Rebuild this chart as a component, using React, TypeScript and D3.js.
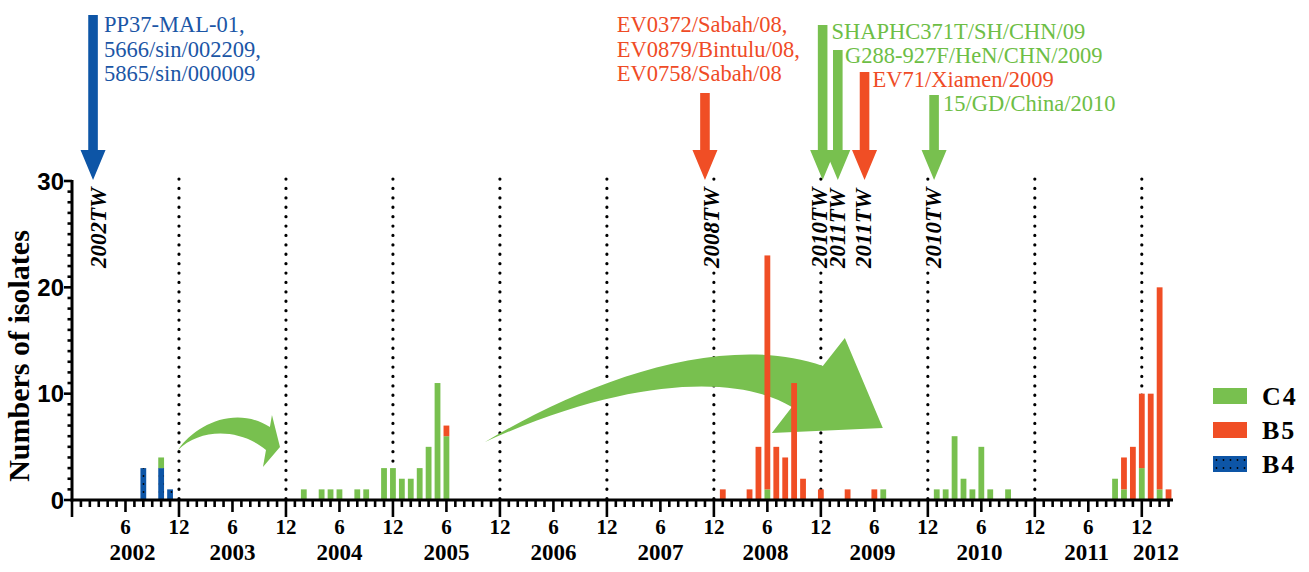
import React from "react";
import * as d3 from "d3";

const W = 1309;
const H = 572;

// month index: 0 = Dec 2001, 1 = Jan 2002 ... 123 = Mar 2012
const months = [8, 10, 11, 26, 28, 29, 30, 32, 33, 35, 36, 37, 38, 39, 40, 41, 42, 73, 76, 77, 78, 79, 80, 81, 82, 84, 87, 90, 91, 97, 98, 99, 100, 101, 102, 103, 105, 117, 118, 119, 120, 121, 122, 123];
const c4 = [0, 1, 0, 1, 1, 1, 1, 1, 1, 3, 3, 2, 2, 3, 5, 11, 6, 0, 0, 0, 1, 0, 0, 0, 0, 0, 0, 0, 1, 1, 1, 6, 2, 1, 5, 1, 1, 2, 1, 0, 3, 0, 1, 0];
const b5 = [0, 0, 0, 0, 0, 0, 0, 0, 0, 0, 0, 0, 0, 0, 0, 0, 1, 1, 1, 5, 22, 5, 4, 11, 2, 1, 1, 1, 0, 0, 0, 0, 0, 0, 0, 0, 0, 0, 3, 5, 7, 10, 19, 1];
const b4 = [3, 3, 1, 0, 0, 0, 0, 0, 0, 0, 0, 0, 0, 0, 0, 0, 0, 0, 0, 0, 0, 0, 0, 0, 0, 0, 0, 0, 0, 0, 0, 0, 0, 0, 0, 0, 0, 0, 0, 0, 0, 0, 0, 0];

const stackKeys = ["B4", "C4", "B5"];
const legendKeys = ["C4", "B5", "B4"];
const GREEN = "#78C04F";
const RED = "#F04E25";
const BLUE = "#0D55A6";
const fills: Record<string, string> = { C4: GREEN, B5: RED, B4: "url(#b4dots)" };

const yTicks = [0, 10, 20, 30];
const years = ["2002", "2003", "2004", "2005", "2006", "2007", "2008", "2009", "2010", "2011", "2012"];
const yearPos = [6.8, 18, 30, 42, 54, 66, 77.8, 89.8, 101.8, 113.8, 121.6];
const decembers = [12, 24, 36, 48, 60, 72, 84, 96, 108, 120];

// down arrows marking reference strains
const arrowMonths = [2.36, 71.0, 84.2, 85.9, 88.9, 96.7];
const arrowTops = [15, 93, 25, 50, 72, 95];
const arrowColors = [BLUE, RED, GREEN, GREEN, RED, GREEN];
const tagLabels = ["2002TW", "2008TW", "2010TW", "2011TW", "2011TW", "2010TW"];
const tagMonths = [2.9, 71.7, 83.8, 85.8, 88.7, 96.6];

const noteMonths = [3.6, 61.1, 85.2, 86.7, 89.8, 97.7];
const noteColors = ["#1B56A6", "#EF4B26", "#6DBE45", "#6DBE45", "#EF4B26", "#6DBE45"];
const noteTop = [32, 32, 39, 63, 87, 111];
const noteLines = [
  ["PP37-MAL-01,", "5666/sin/002209,", "5865/sin/000009"],
  ["EV0372/Sabah/08,", "EV0879/Bintulu/08,", "EV0758/Sabah/08"],
  ["SHAPHC371T/SH/CHN/09"],
  ["G288-927F/HeN/CHN/2009"],
  ["EV71/Xiamen/2009"],
  ["15/GD/China/2010"],
];

// curved transmission arrows, in [month, isolates]
const smallArrow = [[11.89, 4.7], [13.79, 7.06], [18.28, 8.94], [22.2, 6.87], [22.43, 8.0], [23.33, 4.99], [21.42, 3.1], [21.76, 4.7], [18.84, 6.77], [14.35, 6.77]];
const bigArrow = [[46.32, 5.46], [56.97, 10.82], [72.67, 15.99], [84.22, 12.61], [86.69, 15.24], [90.95, 6.77], [78.5, 6.3], [80.75, 8.75], [75.47, 11.48], [63.7, 12.04]];

const serif = "'Liberation Serif', 'Times New Roman', serif";
const sans = "'Liberation Sans', Arial, sans-serif";

export default function App() {
  const x = d3.scaleLinear().domain([0, 123.5]).range([72, 1173]);
  const y = d3.scaleLinear().domain([0, 30]).range([500, 181]);
  const barW = 5.8;

  const rows = months.map((m, i) => ({ month: m, C4: c4[i], B5: b5[i], B4: b4[i] }));
  const layers = d3.stack<any>().keys(stackKeys)(rows);

  const curvePath = (pts: number[][]) => {
    const p = pts.map(([m, v]) => [x(m), y(v)]);
    const path = d3.path();
    path.moveTo(p[0][0], p[0][1]);
    path.bezierCurveTo(p[1][0], p[1][1], p[2][0], p[2][1], p[3][0], p[3][1]);
    path.lineTo(p[4][0], p[4][1]);
    path.lineTo(p[5][0], p[5][1]);
    path.lineTo(p[6][0], p[6][1]);
    path.lineTo(p[7][0], p[7][1]);
    path.bezierCurveTo(p[8][0], p[8][1], p[9][0], p[9][1], p[0][0], p[0][1]);
    path.closePath();
    return path.toString();
  };

  const downArrow = (cx: number, top: number, tip: number) => {
    const sw = 4.8, hw = 12.5, hl = 30;
    return [
      [cx - sw, top], [cx + sw, top], [cx + sw, tip - hl], [cx + hw, tip - hl],
      [cx, tip], [cx - hw, tip - hl], [cx - sw, tip - hl],
    ].map((p) => p.join(",")).join(" ");
  };

  const monthTicks = d3.range(0, 124);
  const yMinor = d3.range(0, 31);

  return (
    <svg width={W} height={H} style={{ display: "block", background: "#fff" }}>
      <style>{`body{margin:0}`}</style>
      <defs>
        <pattern id="b4dots" width="7" height="8" patternUnits="userSpaceOnUse">
          <rect width="7" height="8" fill={BLUE} />
          <circle cx="3.5" cy="4" r="0.9" fill="#000" />
        </pattern>
      </defs>

      {/* dotted year separators */}
      {decembers.map((m) => (
        <line key={m} x1={x(m)} x2={x(m)} y1={y(30) - 2} y2={y(0)} stroke="#000"
          strokeWidth={3.2} strokeDasharray="0.1 9.3" strokeLinecap="round" />
      ))}

      {/* curved arrows */}
      <path d={curvePath(smallArrow)} fill={GREEN} />
      <path d={curvePath(bigArrow)} fill={GREEN} />

      {/* bars */}
      {layers.map((layer) => (
        <g key={layer.key} fill={fills[layer.key]}>
          {layer.filter((d) => d[1] > d[0]).map((d) => (
            <rect key={d.data.month} x={x(d.data.month) - barW / 2} width={barW}
              y={y(d[1])} height={y(d[0]) - y(d[1])} />
          ))}
        </g>
      ))}

      {/* y axis */}
      <g stroke="#000" strokeWidth={2.6}>
        <line x1={x(0)} x2={x(0)} y1={y(30) - 1} y2={y(0) + 1.5} strokeWidth={3} />
        {yMinor.map((v) => (
          <line key={v} x1={x(0) - (v % 10 === 0 ? 8 : 4.5)} x2={x(0)} y1={y(v)} y2={y(v)} />
        ))}
      </g>
      {yTicks.map((v) => (
        <text key={v} x={64} y={y(v) + 8.5} textAnchor="end" fontFamily={sans}
          fontWeight="bold" fontSize={24}>{v}</text>
      ))}
      <text transform={`translate(29,356) rotate(-90)`} textAnchor="middle" fontFamily={serif}
        fontWeight="bold" fontSize={30}>Numbers of isolates</text>

      {/* x axis */}
      <g stroke="#000" strokeWidth={2.6}>
        <line x1={x(0) - 1.5} x2={x(123.5)} y1={y(0)} y2={y(0)} strokeWidth={3} />
        {monthTicks.map((m) => (
          <line key={m} x1={x(m)} x2={x(m)} y1={y(0)}
            y2={y(0) + (m % 12 === 0 ? 17 : m % 6 === 0 ? 12 : 7)} />
        ))}
      </g>
      {monthTicks.filter((m) => m > 0 && m % 6 === 0).map((m) => (
        <text key={m} x={x(m)} y={534} textAnchor="middle" fontFamily={serif}
          fontWeight="bold" fontSize={21}>{m % 12 === 0 ? 12 : 6}</text>
      ))}
      {years.map((yr, i) => (
        <text key={yr} x={x(yearPos[i])} y={560} textAnchor="middle" fontFamily={serif}
          fontWeight="bold" fontSize={23}>{yr}</text>
      ))}

      {/* reference strain arrows and notes */}
      {arrowMonths.map((m, i) => (
        <polygon key={i} points={downArrow(x(m), arrowTops[i], y(30) - 1)} fill={arrowColors[i]} />
      ))}
      {tagMonths.map((m, i) => (
        <rect key={i} x={x(m) - 8.5} y={y(30) + 2} width={17} height={86} fill="#fff" />
      ))}
      {tagMonths.map((m, i) => (
        <text key={i} transform={`translate(${x(m) + 8},268) rotate(-90)`} fontFamily={serif}
          fontWeight="bold" fontStyle="italic" fontSize={23}>{tagLabels[i]}</text>
      ))}
      {noteLines.map((lines, i) => (
        <text key={i} fontFamily={serif} fontSize={22.5} fill={noteColors[i]}>
          {lines.map((s, j) => (
            <tspan key={j} x={x(noteMonths[i])} y={noteTop[i] + j * 24.5}>{s}</tspan>
          ))}
        </text>
      ))}

      {/* legend */}
      {legendKeys.map((k, i) => (
        <g key={k} transform={`translate(1213,${388 + i * 34})`}>
          <rect width={34} height={16} fill={fills[k]} />
          <text x={49} y={17} fontFamily={serif} fontWeight="bold" fontSize={26}
            letterSpacing={2}>{k}</text>
        </g>
      ))}
    </svg>
  );
}
